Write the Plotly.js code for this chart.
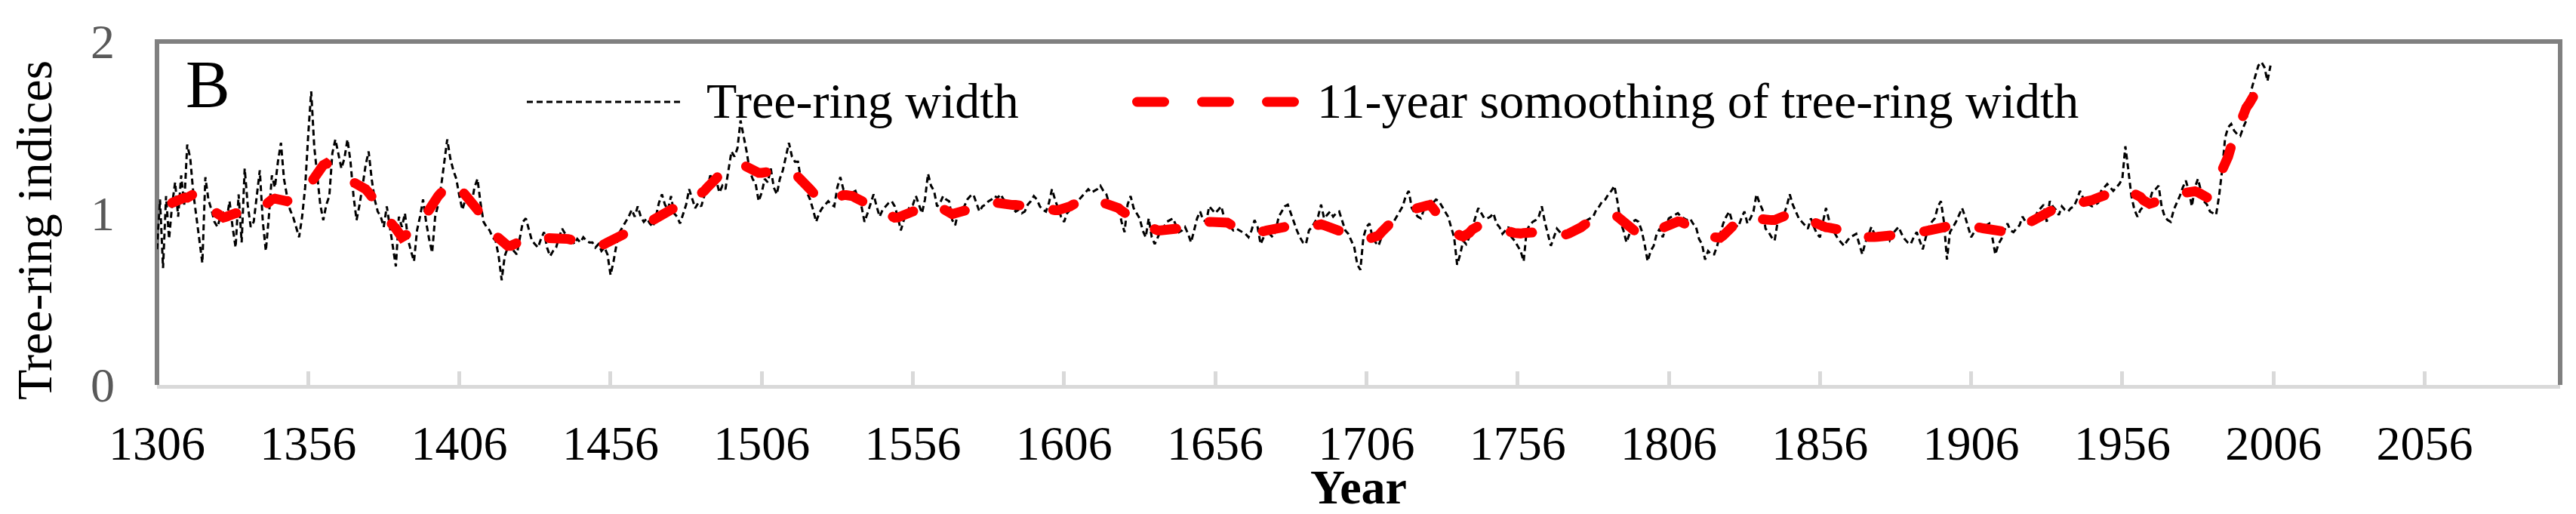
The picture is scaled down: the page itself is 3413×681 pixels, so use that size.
<!DOCTYPE html>
<html>
<head>
<meta charset="utf-8">
<script src="https://cdn.plot.ly/plotly-3.0.1.min.js"></script>
<style>
html,body{margin:0;padding:0;background:#ffffff;}
#chart{width:3413px;height:681px;}
</style>
</head>
<body>
<div id="chart"></div>
<script>
// ---------------- DATA ----------------
const seriesNames = ['Tree-ring width', '11-year somoothing of tree-ring width'];
const panelLabel = 'B';
const xTitle = 'Year';
const yTitle = 'Tree-ring indices';

const xTickYears  = [1306, 1356, 1406, 1456, 1506, 1556, 1606, 1656, 1706, 1756, 1806, 1856, 1906, 1956, 2006, 2056];
const xTickLabels = ['1306','1356','1406','1456','1506','1556','1606','1656','1706','1756','1806','1856','1906','1956','2006','2056'];
const yTickValues = [0, 1, 2];
const yTickLabels = ['0', '1', '2'];

// annual tree-ring width indices, 1306-2005
const ringStartYear = 1306;
const ringWidth = [
  0.79,1.08,0.68,1.10,
  0.85,1.05,1.18,0.98,1.22,1.05,1.40,1.32,1.12,0.98,
  0.85,0.71,1.21,1.08,1.02,0.95,0.92,0.98,1.00,0.96,
  1.07,0.92,0.80,1.11,0.83,1.26,1.05,0.92,0.95,1.10,
  1.25,0.95,0.78,0.98,1.22,1.15,1.30,1.41,1.20,1.10,
  1.02,0.98,0.92,0.86,0.98,1.15,1.45,1.71,1.39,1.22,
  1.05,0.96,1.05,1.10,1.35,1.43,1.35,1.26,1.32,1.43,
  1.30,1.10,0.96,1.05,1.16,1.28,1.36,1.20,1.08,1.01,
  0.98,0.92,1.04,0.92,0.80,0.69,0.98,0.92,1.00,0.85,
  0.78,0.72,0.90,0.98,1.08,0.95,0.85,0.77,0.98,1.05,
  1.16,1.30,1.43,1.32,1.25,1.20,1.10,1.02,1.08,1.12,
  1.05,1.15,1.20,1.06,0.95,0.92,0.90,0.86,0.84,0.75,
  0.61,0.75,0.80,0.82,0.78,0.76,0.85,0.95,0.97,0.90,
  0.84,0.82,0.80,0.85,0.89,0.80,0.75,0.78,0.80,0.86,
  0.91,0.88,0.84,0.86,0.82,0.85,0.83,0.86,0.84,0.83,
  0.83,0.80,0.82,0.78,0.80,0.76,0.64,0.72,0.82,0.89,
  0.92,0.95,0.98,1.02,0.98,1.04,0.98,0.95,0.97,0.94,
  0.92,0.98,1.06,1.11,1.05,1.02,1.10,1.00,0.98,0.94,
  1.00,1.05,1.14,1.08,1.03,1.06,1.04,1.10,1.15,1.22,
  1.18,1.19,1.12,1.16,1.14,1.25,1.36,1.33,1.38,1.54,
  1.45,1.36,1.25,1.20,1.17,1.07,1.12,1.20,1.18,1.26,
  1.15,1.11,1.20,1.25,1.33,1.41,1.33,1.30,1.30,1.19,
  1.16,1.12,1.08,1.02,0.95,1.00,1.03,1.05,1.07,1.05,
  1.04,1.15,1.21,1.14,1.11,1.10,1.12,1.13,1.08,1.04,
  0.95,1.00,1.06,1.11,1.04,0.98,1.02,1.04,1.06,1.07,
  1.04,0.98,0.90,0.96,1.00,1.04,1.05,1.10,1.05,1.00,
  1.08,1.23,1.16,1.13,1.04,1.06,1.10,1.08,1.07,0.96,
  0.93,1.01,1.03,1.04,1.08,1.10,1.11,1.06,1.01,1.04,
  1.05,1.07,1.08,1.10,1.09,1.11,1.08,1.07,1.04,1.03,
  1.01,1.02,1.00,1.01,1.05,1.07,1.10,1.08,1.04,1.02,
  1.01,1.06,1.14,1.08,1.03,0.98,0.95,1.00,1.02,1.04,
  1.06,1.08,1.10,1.12,1.14,1.12,1.13,1.14,1.16,1.13,
  1.11,1.05,1.02,1.05,1.04,0.95,0.89,1.05,1.10,1.03,
  1.00,0.97,0.90,0.86,0.97,0.86,0.82,0.86,0.90,0.92,
  0.95,0.96,0.97,0.93,0.89,0.90,0.92,0.88,0.83,0.90,
  0.97,1.01,0.96,0.95,1.04,1.02,1.00,1.02,1.04,0.97,
  0.94,0.92,0.90,0.91,0.90,0.89,0.88,0.86,0.90,0.96,
  0.92,0.82,0.86,0.91,0.88,0.86,0.90,0.98,1.01,1.04,
  1.05,1.00,0.95,0.90,0.86,0.83,0.82,0.90,0.92,0.95,
  0.98,1.05,0.97,0.99,1.01,0.98,1.00,1.01,0.95,0.90,
  0.88,0.84,0.80,0.70,0.67,0.86,0.92,0.94,0.86,0.83,
  0.81,0.86,0.89,0.90,0.92,0.95,0.98,1.01,1.04,1.10,
  1.13,1.03,1.00,0.98,0.97,1.02,1.04,1.07,1.06,1.08,
  1.07,1.04,1.01,0.98,0.92,0.86,0.70,0.76,0.84,0.82,
  0.86,0.92,0.97,1.03,1.00,0.97,0.97,0.98,1.00,0.94,
  0.92,0.88,0.90,0.92,0.86,0.84,0.81,0.78,0.72,0.90,
  0.93,0.95,0.96,0.98,1.04,0.95,0.88,0.81,0.86,0.91,
  0.89,0.87,0.86,0.88,0.89,0.90,0.92,0.93,0.95,0.96,
  0.97,0.98,1.02,1.04,1.07,1.08,1.11,1.13,1.16,1.07,
  0.95,0.90,0.83,0.88,0.95,0.96,0.95,0.90,0.82,0.72,
  0.78,0.81,0.88,0.91,0.86,0.92,0.97,0.98,0.99,1.00,
  0.98,0.97,0.96,0.97,0.94,0.92,0.85,0.82,0.73,0.78,
  0.76,0.76,0.81,0.88,0.94,0.98,1.01,0.95,0.93,0.92,
  0.97,1.01,0.94,0.97,1.01,1.11,1.06,1.02,0.91,0.89,
  0.86,0.84,0.95,0.97,0.99,1.04,1.11,1.05,1.01,0.97,
  0.95,0.93,0.91,0.97,0.92,0.88,0.86,0.95,1.03,0.96,
  0.91,0.88,0.85,0.83,0.81,0.84,0.86,0.87,0.88,0.82,
  0.76,0.83,0.87,0.92,0.88,0.85,0.87,0.89,0.86,0.84,
  0.88,0.90,0.92,0.88,0.85,0.83,0.82,0.86,0.89,0.84,
  0.79,0.86,0.92,0.95,0.97,1.04,1.07,0.95,0.73,0.89,
  0.92,0.95,0.99,1.03,0.98,0.92,0.86,0.89,0.91,0.92,
  0.92,0.93,0.94,0.86,0.76,0.82,0.85,0.90,0.94,0.90,
  0.89,0.91,0.93,0.98,0.95,0.94,0.95,0.97,1.01,1.03,
  1.05,0.95,1.07,1.04,1.02,0.99,1.04,1.02,1.01,1.03,
  1.04,1.08,1.13,1.09,1.06,1.05,1.04,1.05,1.06,1.13,
  1.15,1.17,1.15,1.13,1.15,1.17,1.20,1.39,1.25,1.10,
  1.02,0.98,1.02,1.04,1.06,1.07,1.13,1.14,1.16,1.04,
  0.98,0.96,0.95,1.02,1.06,1.10,1.15,1.19,1.13,1.04,
  1.15,1.20,1.13,1.07,1.05,1.01,1.00,0.99,1.10,1.25,
  1.44,1.50,1.52,1.48,1.46,1.45,1.50,1.54,1.66,1.74,
  1.80,1.86,1.88,1.85,1.77,1.86
];

// 11-year smoothing, 1311-2000
const smoothStartYear = 1311;
const smoothWidth = [
  1.06,1.07,1.08,1.08,1.09,1.09,1.10,1.11,1.12,
  1.10,1.07,1.05,1.03,1.02,1.01,0.99,0.98,0.975,0.98,
  0.99,1.00,1.00,1.00,1.00,1.00,1.00,1.00,1.00,1.01,
  1.02,1.04,1.05,1.06,1.08,1.085,1.08,1.07,1.07,1.07,
  1.08,1.09,1.10,1.11,1.12,1.13,1.15,1.18,1.21,1.24,
  1.26,1.28,1.29,1.28,1.26,1.25,1.23,1.22,1.21,1.20,
  1.19,1.18,1.17,1.16,1.16,1.14,1.12,1.10,1.085,1.06,
  1.03,1.00,0.97,0.95,0.93,0.91,0.88,0.86,0.87,0.88,
  0.89,0.90,0.91,0.94,0.97,1.00,1.03,1.055,1.08,1.10,
  1.12,1.14,1.16,1.18,1.19,1.17,1.15,1.13,1.11,1.095,
  1.08,1.05,1.02,0.99,0.96,0.93,0.91,0.89,0.87,0.85,
  0.83,0.82,0.81,0.81,0.82,0.83,0.84,0.85,0.855,0.86,
  0.86,0.86,0.86,0.855,0.85,0.85,0.85,0.85,0.85,0.85,
  0.85,0.85,0.85,0.845,0.84,0.835,0.83,0.82,0.815,0.81,
  0.81,0.81,0.81,0.81,0.82,0.83,0.84,0.85,0.86,0.865,
  0.87,0.88,0.89,0.90,0.91,0.92,0.93,0.94,0.945,0.95,
  0.96,0.97,0.98,0.99,1.01,1.02,1.035,1.045,1.05,1.055,
  1.06,1.06,1.065,1.075,1.09,1.10,1.113,1.13,1.15,1.17,
  1.19,1.21,1.23,1.25,1.267,1.275,1.28,1.285,1.29,1.285,
  1.28,1.27,1.26,1.245,1.24,1.235,1.235,1.24,1.24,1.245,
  1.245,1.245,1.25,1.25,1.245,1.245,1.24,1.23,1.215,1.20,
  1.18,1.16,1.14,1.12,1.10,1.08,1.065,1.06,1.07,1.08,
  1.09,1.10,1.10,1.105,1.105,1.106,1.10,1.09,1.08,1.07,
  1.06,1.05,1.04,1.03,1.02,1.011,1.00,0.99,0.985,0.98,
  0.974,0.975,0.98,0.985,0.995,1.00,1.01,1.02,1.03,1.035,
  1.04,1.045,1.05,1.05,1.048,1.04,1.025,1.01,0.996,0.995,
  1.00,1.005,1.01,1.018,1.025,1.03,1.04,1.045,1.05,1.055,
  1.06,1.062,1.063,1.062,1.06,1.055,1.05,1.05,1.048,1.048,
  1.048,1.048,1.048,1.048,1.048,1.045,1.04,1.035,1.03,1.025,
  1.02,1.02,1.018,1.018,1.018,1.02,1.025,1.035,1.04,1.05,
  1.06,1.07,1.08,1.09,1.09,1.085,1.08,1.075,1.07,1.06,
  1.055,1.05,1.045,1.04,1.03,1.015,1.00,0.985,0.975,0.965,
  0.955,0.945,0.935,0.925,0.915,0.91,0.905,0.90,0.90,0.90,
  0.90,0.90,0.905,0.91,0.915,0.916,0.92,0.923,0.93,0.94,
  0.945,0.945,0.95,0.95,0.95,0.95,0.95,0.95,0.95,0.948,
  0.945,0.935,0.925,0.915,0.905,0.90,0.895,0.89,0.888,0.887,
  0.887,0.89,0.895,0.90,0.905,0.91,0.915,0.92,0.922,0.923,
  0.923,0.923,0.92,0.918,0.916,0.916,0.918,0.922,0.928,0.934,
  0.938,0.935,0.93,0.925,0.918,0.91,0.90,0.895,0.89,0.885,
  0.88,0.872,0.865,0.858,0.852,0.85,0.85,0.852,0.855,0.857,
  0.87,0.89,0.91,0.935,0.955,0.97,0.985,0.996,1.005,1.012,
  1.018,1.022,1.026,1.03,1.035,1.04,1.045,1.048,1.03,1.00,
  0.975,0.955,0.935,0.915,0.90,0.894,0.88,0.87,0.864,0.87,
  0.885,0.905,0.923,0.925,0.92,0.915,0.912,0.91,0.908,0.905,
  0.903,0.90,0.90,0.895,0.89,0.885,0.88,0.882,0.885,0.888,
  0.892,0.894,0.893,0.89,0.888,0.885,0.882,0.878,0.875,0.872,
  0.872,0.872,0.876,0.882,0.888,0.894,0.905,0.918,0.932,0.945,
  0.952,0.96,0.967,0.973,0.978,0.982,0.986,0.988,0.989,0.98,
  0.965,0.948,0.938,0.92,0.90,0.88,0.864,0.865,0.87,0.878,
  0.887,0.895,0.903,0.91,0.917,0.923,0.93,0.938,0.946,0.952,
  0.95,0.94,0.925,0.912,0.905,0.895,0.885,0.878,0.872,0.866,
  0.862,0.86,0.858,0.857,0.87,0.89,0.91,0.93,0.948,0.962,
  0.974,0.975,0.972,0.968,0.964,0.962,0.96,0.96,0.96,0.96,
  0.96,0.96,0.97,0.98,0.988,0.994,0.996,0.994,0.99,0.986,
  0.982,0.975,0.965,0.955,0.945,0.935,0.928,0.922,0.918,0.916,
  0.916,0.916,0.905,0.893,0.88,0.87,0.865,0.862,0.86,0.858,
  0.857,0.857,0.858,0.86,0.862,0.863,0.864,0.865,0.865,0.865,
  0.865,0.866,0.868,0.87,0.871,0.872,0.875,0.879,0.884,0.889,
  0.894,0.898,0.902,0.906,0.91,0.915,0.92,0.924,0.927,0.929,
  0.93,0.93,0.93,0.93,0.93,0.928,0.925,0.922,0.918,0.916,
  0.912,0.908,0.904,0.90,0.896,0.892,0.889,0.887,0.886,0.887,
  0.895,0.905,0.918,0.932,0.945,0.955,0.965,0.975,0.985,0.995,
  1.005,1.012,1.02,1.025,1.03,1.034,1.037,1.039,1.04,1.043,
  1.046,1.05,1.053,1.055,1.06,1.068,1.076,1.084,1.092,1.10,
  1.108,1.116,1.124,1.13,1.136,1.14,1.143,1.14,1.133,1.124,
  1.116,1.11,1.095,1.075,1.058,1.055,1.06,1.068,1.076,1.084,
  1.092,1.10,1.106,1.11,1.113,1.114,1.118,1.122,1.126,1.128,
  1.128,1.122,1.112,1.10,1.092,1.10,1.13,1.17,1.21,1.25,
  1.28,1.33,1.39,1.44,1.49,1.54,1.58,1.615,1.64,1.67,
  1.70
];

// ---------------- CHART ----------------
const ringYears = ringWidth.map((_, i) => ringStartYear + i);
const smoothYears = smoothWidth.map((_, i) => smoothStartYear + i);

const FONT = 'Liberation Serif, Times New Roman, serif';

const traces = [
  {
    type: 'scatter', mode: 'lines', name: seriesNames[0],
    x: ringYears, y: ringWidth,
    line: {color: '#000000', width: 3, dash: '8px,5px'},
    hoverinfo: 'skip', showlegend: false
  },
  {
    type: 'scatter', mode: 'lines', name: seriesNames[1],
    x: smoothYears, y: smoothWidth,
    line: {color: '#ff0000', width: 13, dash: '29px,45px'},
    hoverinfo: 'skip', showlegend: false
  }
];

// paper-coordinate helpers for the plot frame
const PL = 208, PR = 3392, PT = 55, PB = 510;
const px = v => (v - PL) / (PR - PL);
const py = v => (PB - v) / (PB - PT);

const layout = {
  width: 3413, height: 681,
  margin: {l: PL, r: 3413 - PR, t: PT, b: 681 - PB, pad: 0},
  paper_bgcolor: '#ffffff', plot_bgcolor: '#ffffff',
  font: {family: FONT, color: '#000000', size: 64},
  showlegend: false,
  xaxis: {
    range: [1306, 2100.8],
    tickmode: 'array', tickvals: xTickYears, ticktext: xTickLabels,
    ticks: 'inside', ticklen: 18, tickwidth: 5, tickcolor: '#d9d9d9',
    showline: true, linecolor: '#d9d9d9', linewidth: 5,
    showgrid: false, zeroline: false,
    tickfont: {family: FONT, size: 64, color: '#000000'},
    ticklabelstandoff: 17,
    title: {text: xTitle, font: {family: FONT, size: 64, color: '#000000', weight: 'bold'}, standoff: 4}
  },
  yaxis: {
    range: [0, 2],
    tickmode: 'array', tickvals: yTickValues, ticktext: yTickLabels,
    ticks: '', showline: false, showgrid: false, zeroline: false,
    tickfont: {family: FONT, size: 64, color: '#595959'},
    ticklabelstandoff: 55
  },
  shapes: [
    // plot-area frame (left, top, right)
    {type: 'path', xref: 'paper', yref: 'paper', path: 'M 0,0 L 0,1 L 1,1 L 1,0',
     line: {color: '#808080', width: 6}, layer: 'below'},
    // legend samples
    {type: 'line', xref: 'paper', yref: 'paper', x0: px(698), x1: px(904), y0: py(135), y1: py(135),
     line: {color: '#000000', width: 3, dash: '8px,5px'}},
    {type: 'line', xref: 'paper', yref: 'paper', x0: px(1506.5), x1: px(1714.5), y0: py(135), y1: py(135),
     line: {color: '#ff0000', width: 13, dash: '36px,50px'}}
  ],
  annotations: [
    {xref: 'paper', yref: 'paper', x: px(45), y: py(305), text: yTitle, textangle: -90, showarrow: false,
     xanchor: 'center', yanchor: 'middle', font: {family: FONT, size: 66, color: '#000000'}},
    {xref: 'paper', yref: 'paper', x: px(275), y: py(111.5), text: panelLabel, showarrow: false,
     xanchor: 'center', yanchor: 'middle', font: {family: FONT, size: 88, color: '#000000'}},
    {xref: 'paper', yref: 'paper', x: px(934), y: py(133.5), text: seriesNames[0], showarrow: false,
     xanchor: 'left', yanchor: 'middle', font: {family: FONT, size: 66, color: '#000000'}},
    {xref: 'paper', yref: 'paper', x: px(1743), y: py(133.5), text: seriesNames[1], showarrow: false,
     xanchor: 'left', yanchor: 'middle', font: {family: FONT, size: 66, color: '#000000'}}
  ]
};

Plotly.newPlot('chart', traces, layout, {staticPlot: true, displayModeBar: false}).then(() => {
  document.querySelectorAll('.scatterlayer .trace path.js-line').forEach(p => {
    if ((p.style.stroke || '').indexOf('255, 0, 0') >= 0) p.style.strokeLinecap = 'round';
  });
  document.querySelectorAll('.shapelayer path').forEach(p => {
    if ((p.style.stroke || '').indexOf('255, 0, 0') >= 0) p.style.strokeLinecap = 'round';
  });
});
</script>
</body>
</html>
